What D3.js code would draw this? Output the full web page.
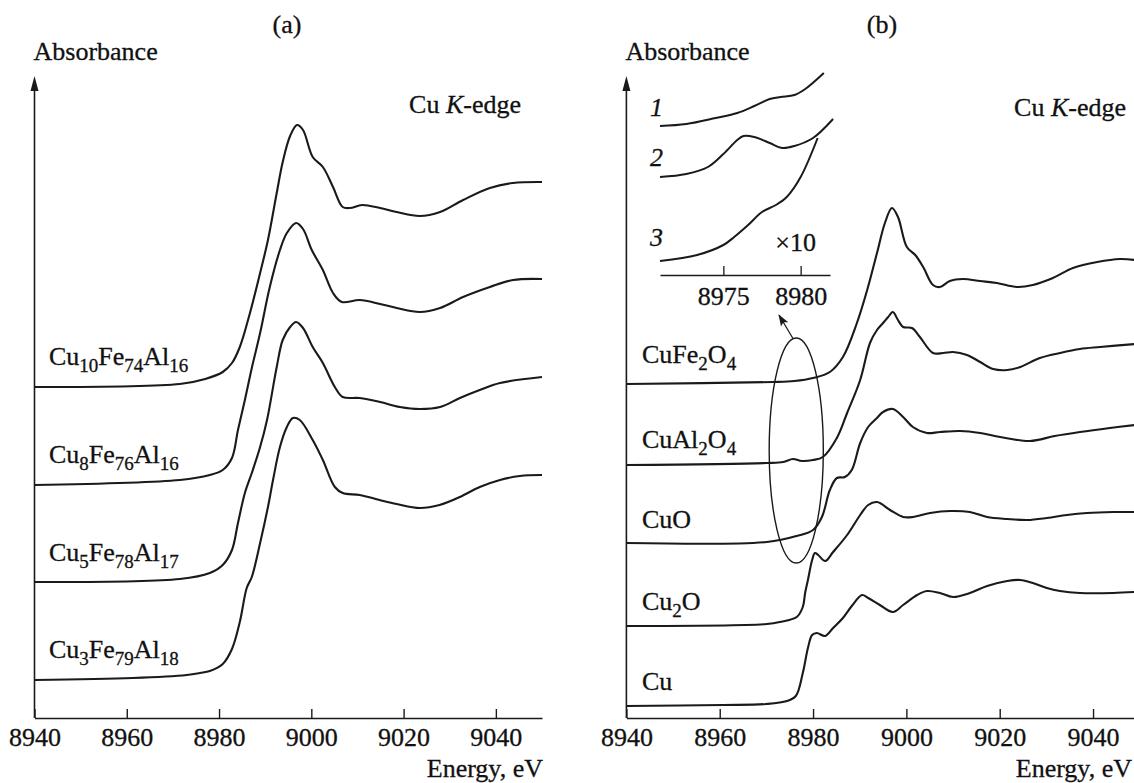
<!DOCTYPE html>
<html lang="en">
<head>
<meta charset="utf-8">
<title>Cu K-edge XANES</title>
<script src="https://cdnjs.cloudflare.com/ajax/libs/d3/7.8.5/d3.min.js"></script>
<style>
  body { margin: 0; background: #fff; }
  svg text { font-family: "Liberation Serif", "Times New Roman", serif; fill: #111; stroke: #111; stroke-width: 0.3px; }
</style>
</head>
<body>
<script>
// ---- data, panel (a): alloys (absorbance relative to each curve's own baseline)
var cu10E = [8940, 8971.5, 8977, 8980.8, 8982.8, 8984.5, 8986.7, 8988.9, 8990.6, 8992.5, 8993.8, 8995.4, 8996.9, 8998.2, 9000.3, 9002.5, 9004.7, 9006.8, 9008.4, 9011.0, 9014.9, 9018.5, 9023.5, 9027.9, 9032.9, 9038.7, 9043.7, 9050];
var cu10A = [0, 0.03, 0.08, 0.15, 0.24, 0.40, 0.74, 1.14, 1.47, 1.94, 2.25, 2.51, 2.62, 2.57, 2.30, 2.20, 2.00, 1.80, 1.79, 1.82, 1.79, 1.75, 1.71, 1.75, 1.87, 1.99, 2.04, 2.05];
var cu8E = [8940, 8971.5, 8978.0, 8980.8, 8982.8, 8984.1, 8985.6, 8987.1, 8988.9, 8991.0, 8993.2, 8994.7, 8996.7, 8998.2, 9000.1, 9002.5, 9004.7, 9006.6, 9010.5, 9014.9, 9018.5, 9023.5, 9027.9, 9032.9, 9038.7, 9043.7, 9050];
var cu8A = [0, 0.05, 0.10, 0.15, 0.27, 0.55, 0.85, 1.17, 1.52, 1.98, 2.35, 2.52, 2.62, 2.56, 2.35, 2.15, 1.92, 1.83, 1.85, 1.81, 1.77, 1.73, 1.77, 1.88, 1.98, 2.05, 2.06];
var cu5E = [8940, 8971.5, 8978.0, 8980.8, 8982.8, 8984.1, 8985.6, 8987.1, 8988.9, 8990.4, 8992.5, 8993.8, 8995.4, 8996.7, 8998.2, 9000.3, 9002.5, 9005.1, 9006.8, 9010.5, 9014.9, 9019.2, 9023.5, 9027.9, 9032.2, 9036.5, 9040.9, 9050];
var cu5A = [0, 0.03, 0.09, 0.17, 0.32, 0.59, 0.89, 1.09, 1.35, 1.62, 2.15, 2.42, 2.55, 2.60, 2.54, 2.35, 2.19, 1.95, 1.85, 1.84, 1.80, 1.75, 1.73, 1.75, 1.84, 1.92, 1.99, 2.05];
var cu3E = [8940, 8961.3, 8973.0, 8975.9, 8978.0, 8980.8, 8982.8, 8984.5, 8986.0, 8987.1, 8988.9, 8990.6, 8991.7, 8993.2, 8994.7, 8996.0, 8997.5, 9000.3, 9002.5, 9005.1, 9006.8, 9010.5, 9014.8, 9018.5, 9023.5, 9027.8, 9032.2, 9036.5, 9040.9, 9045.2, 9050];
var cu3A = [0, 0.02, 0.05, 0.07, 0.09, 0.16, 0.31, 0.58, 0.92, 1.03, 1.37, 1.73, 2.00, 2.33, 2.53, 2.62, 2.60, 2.40, 2.20, 1.93, 1.87, 1.85, 1.80, 1.76, 1.72, 1.75, 1.83, 1.93, 2.00, 2.04, 2.05];
var offsetsA = [3.31, 2.33, 1.36, 0.38];
var namesA = [["Cu", "10", "Fe", "74", "Al", "16"], ["Cu", "8", "Fe", "76", "Al", "16"],
              ["Cu", "5", "Fe", "78", "Al", "17"], ["Cu", "3", "Fe", "79", "Al", "18"]];

// ---- data, panel (b): reference compounds
var cufe2o4E = [8940, 8971.4, 8976, 8980.0, 8983.6, 8986.4, 8989.4, 8991.6, 8993.7, 8995.4, 8996.9, 8998.2, 9000.1, 9001.9, 9003.6, 9005.7, 9007.2, 9009.3, 9012.1, 9015.8, 9019.4, 9023.7, 9027.1, 9031.4, 9035.7, 9040.9, 9045.8, 9049];
var cufe2o4A = [0, 0.02, 0.03, 0.06, 0.12, 0.27, 0.61, 0.94, 1.31, 1.61, 1.76, 1.67, 1.37, 1.29, 1.17, 0.99, 0.97, 1.03, 1.05, 1.03, 1.01, 0.97, 0.99, 1.06, 1.16, 1.22, 1.25, 1.24];
var cual2o4E = [8940, 8970.1, 8973.6, 8975.7, 8977.6, 8980.0, 8982.1, 8985.1, 8987.3, 8990.1, 8992.2, 8993.7, 8995.0, 8996.1, 8997.1, 8998.2, 8999.3, 9001.2, 9002.9, 9005.7, 9007.9, 9010.0, 9013.0, 9015.8, 9018.6, 9021.6, 9024.4, 9028.6, 9032.9, 9037.2, 9041.5, 9049];
var cual2o4A = [0, 0.02, 0.03, 0.06, 0.04, 0.05, 0.08, 0.27, 0.52, 0.85, 1.22, 1.35, 1.42, 1.48, 1.53, 1.45, 1.38, 1.37, 1.28, 1.12, 1.12, 1.13, 1.10, 1.03, 0.96, 0.95, 0.98, 1.07, 1.12, 1.16, 1.18, 1.21];
var cuoE = [8940, 8970.1, 8976.5, 8980.0, 8981.9, 8983.6, 8985.1, 8986.8, 8988.3, 8990.1, 8991.8, 8993.7, 8995.0, 8997.1, 8999.3, 9001.4, 9004.4, 9007.2, 9011.5, 9015.8, 9020.1, 9026.5, 9031.8, 9037.2, 9043.6, 9049];
var cuoA = [0, 0.01, 0.07, 0.13, 0.26, 0.53, 0.65, 0.66, 0.73, 1.00, 1.16, 1.25, 1.31, 1.34, 1.26, 1.16, 1.10, 1.11, 1.12, 1.10, 1.06, 1.02, 1.07, 1.11, 1.15, 1.18];
var cu2oE = [8940, 8970.1, 8972.9, 8976.5, 8977.8, 8978.3, 8978.9, 8979.8, 8980.4, 8981.1, 8982.6, 8984.3, 8987.3, 8990.1, 8991.8, 8993.7, 8996.5, 8999.3, 9001.4, 9005.1, 9009.4, 9013.6, 9017.3, 9021.6, 9025.9, 9030.1, 9034.4, 9038.7, 9044.3, 9049];
var cu2oA = [0, 0.02, 0.04, 0.09, 0.19, 0.33, 0.46, 0.66, 0.73, 0.71, 0.65, 0.74, 0.91, 1.11, 1.21, 1.24, 1.16, 1.09, 1.09, 1.13, 1.15, 1.14, 1.09, 1.07, 1.06, 1.08, 1.11, 1.13, 1.14, 1.14];
var cuE = [8940, 8960.7, 8969.9, 8974.4, 8976.3, 8977.8, 8978.9, 8979.8, 8980.8, 8982.6, 8984.3, 8986.4, 8988.3, 8990.5, 8991.8, 8994.3, 8997.1, 8999.3, 9002.3, 9004.4, 9007.2, 9010.0, 9013.6, 9017.3, 9021.6, 9024.4, 9027.1, 9030.1, 9032.9, 9037.2, 9044.3, 9049];
var cuA = [0, 0.01, 0.02, 0.05, 0.10, 0.33, 0.58, 0.71, 0.73, 0.70, 0.78, 0.88, 1.00, 1.11, 1.08, 1.01, 0.94, 1.01, 1.11, 1.15, 1.13, 1.09, 1.13, 1.20, 1.25, 1.26, 1.23, 1.18, 1.15, 1.13, 1.13, 1.14];
var offsetsB = [3.34, 2.53, 1.75, 0.92, 0.12];
var namesB = [["CuFe", "2", "O", "4"], ["CuAl", "2", "O", "4"], ["CuO"], ["Cu", "2", "O"], ["Cu"]];

// ---- inset (pre-edge, x10)
var in1E = [8970.9, 8972.6, 8974.5, 8975.9, 8977.0, 8978.0, 8978.7, 8979.6, 8980.3, 8981.5];
var in1A = [1.49, 1.51, 1.57, 1.62, 1.69, 1.76, 1.78, 1.80, 1.86, 2.02];
var in2E = [8970.9, 8972.6, 8974.0, 8975.0, 8975.9, 8976.3, 8977.0, 8978.0, 8978.8, 8979.6, 8980.8, 8982.1];
var in2A = [0.98, 1.01, 1.08, 1.21, 1.35, 1.39, 1.38, 1.32, 1.27, 1.29, 1.37, 1.56];
var in3E = [8970.9, 8973.3, 8975.0, 8975.7, 8976.6, 8977.5, 8978.4, 8979.1, 8980.0, 8981.1];
var in3A = [0.14, 0.20, 0.30, 0.38, 0.50, 0.63, 0.70, 0.78, 0.98, 1.37];
var insetNames = ["1", "2", "3"];

var mainTicks = [8940, 8960, 8980, 9000, 9020, 9040];
var insetTicks = [8975, 8980];

var w = 1134, h = 783;
var ink = "#1a1a1a";
var serif = "Liberation Serif, Times New Roman, serif";

var svg = d3.select("body").append("svg")
    .attr("width", w)
    .attr("height", h);

svg.append("defs").append("marker")
    .attr("id", "head")
    .attr("viewBox", "0 0 12 10")
    .attr("refX", 11).attr("refY", 5)
    .attr("markerWidth", 13).attr("markerHeight", 10)
    .attr("markerUnits", "userSpaceOnUse")
    .attr("orient", "auto")
  .append("path")
    .attr("d", "M0,0.8 L12,5 L0,9.2 L2.5,5 Z")
    .attr("fill", ink);

var y = d3.scaleLinear().domain([0, 6.4]).range([718, 78]);

function zip(E, A, off) {
  return E.map(function (e, i) { return [e, A[i] + off]; });
}

function drawPanel(x, series, offsets, names, labelX, labelGap, title, edge, energyX) {
  var g = svg.append("g");
  var line = d3.line()
      .x(function (d) { return x(d[0]); })
      .y(function (d) { return y(d[1]); })
      .curve(d3.curveCatmullRom.alpha(0.5));

  g.selectAll("path.spec")
    .data(series)
    .enter()
    .append("path")
    .attr("class", "spec")
    .attr("fill", "none")
    .attr("stroke", ink)
    .attr("stroke-width", 2.1)
    .attr("stroke-linejoin", "round")
    .attr("d", function (s, i) { return line(zip(s[0], s[1], offsets[i])); });

  // x axis, ticks pointing inward
  var ax = g.append("g")
      .attr("transform", "translate(0," + y(0) + ")")
      .call(d3.axisBottom(x).tickValues(mainTicks).tickSize(-9).tickSizeOuter(0)
            .tickPadding(10).tickFormat(d3.format("d")));
  ax.attr("font-family", serif);
  ax.select(".domain").attr("stroke", ink).attr("stroke-width", 1.6);
  ax.selectAll(".tick line").attr("stroke", ink).attr("stroke-width", 1.4);
  ax.selectAll(".tick text").attr("font-size", 26).style("font-family", serif);

  // y axis arrow
  var x0 = x(8940);
  g.append("line")
    .attr("x1", x0).attr("x2", x0)
    .attr("y1", y(0)).attr("y2", y(6.3))
    .attr("stroke", ink).attr("stroke-width", 1.6);
  g.append("path")
    .attr("d", "M" + (x0 - 4) + "," + (y(6.4) + 13) + " L" + x0 + "," + (y(6.4) - 2) +
               " L" + (x0 + 4) + "," + (y(6.4) + 13) + " Z")
    .attr("fill", ink);

  g.append("text").attr("x", x0 - 1).attr("y", 60)
    .attr("font-size", 26).text("Absorbance");
  g.append("text").attr("x", title[1]).attr("y", 33)
    .attr("text-anchor", "middle").attr("font-size", 26).text(title[0]);

  var ke = g.append("text").attr("x", edge[0]).attr("y", edge[1])
    .attr("text-anchor", "end").attr("font-size", 26);
  ke.append("tspan").text("Cu ");
  ke.append("tspan").attr("font-style", "italic").text("K");
  ke.append("tspan").text("-edge");

  g.append("text").attr("x", energyX).attr("y", 777)
    .attr("text-anchor", "end").attr("font-size", 26).text("Energy, eV");

  // compound labels with subscripts
  names.forEach(function (parts, i) {
    var t = g.append("text")
      .attr("x", labelX)
      .attr("y", y(offsets[i]) - labelGap[i])
      .attr("font-size", 26);
    var shifted = false;
    parts.forEach(function (p, j) {
      var ts = t.append("tspan").text(p);
      if (j % 2 === 1) { ts.attr("font-size", 19).attr("dy", 7); shifted = true; }
      else if (shifted) { ts.attr("dy", -7); shifted = false; }
    });
  });
  return g;
}

var xA = d3.scaleLinear().domain([8940, 9050]).range([34.5, 542]);
var xB = d3.scaleLinear().domain([8940, 9050]).range([626.4, 1139.7]);

drawPanel(xA,
  [[cu10E, cu10A], [cu8E, cu8A], [cu5E, cu5A], [cu3E, cu3A]],
  offsetsA, namesA, 49, [22, 22, 21, 22], ["(a)", 287], [521, 113], 543);

var gB = drawPanel(xB,
  [[cufe2o4E, cufe2o4A], [cual2o4E, cual2o4A], [cuoE, cuoA], [cu2oE, cu2oA], [cuE, cuA]],
  offsetsB, namesB, 642, [21, 17, 15, 16, 16], ["(b)", 882], [1126, 116], 1132);

// ---- inset
var xIn = d3.scaleLinear().domain([8970.9, 8981.9]).range([660, 830]);
var yIn = d3.scaleLinear().domain([0, 2.2]).range([275, 55]);
var inLine = d3.line()
    .x(function (d) { return xIn(d[0]); })
    .y(function (d) { return yIn(d[1]); })
    .curve(d3.curveCatmullRom.alpha(0.5));

var inset = svg.append("g");
inset.selectAll("path.pre")
  .data([[in1E, in1A], [in2E, in2A], [in3E, in3A]])
  .enter()
  .append("path")
  .attr("class", "pre")
  .attr("fill", "none")
  .attr("stroke", ink)
  .attr("stroke-width", 2)
  .attr("d", function (s) { return inLine(zip(s[0], s[1], 0)); });

var axIn = inset.append("g")
    .attr("transform", "translate(0," + yIn(0) + ")")
    .call(d3.axisBottom(xIn).tickValues(insetTicks).tickSize(-9).tickSizeOuter(0)
          .tickPadding(12).tickFormat(d3.format("d")));
axIn.attr("font-family", serif);
axIn.select(".domain").attr("stroke", ink).attr("stroke-width", 1.5);
axIn.selectAll(".tick line").attr("stroke", ink).attr("stroke-width", 1.3);
axIn.selectAll(".tick text").attr("font-size", 26).style("font-family", serif);

inset.selectAll("text.num")
  .data(insetNames)
  .enter()
  .append("text")
  .attr("class", "num")
  .attr("x", 650)
  .attr("y", function (d, i) { return [116, 166, 246][i]; })
  .attr("font-size", 26)
  .attr("font-style", "italic")
  .text(function (d) { return d; });

inset.append("text").attr("x", 816).attr("y", 251)
  .attr("text-anchor", "end").attr("font-size", 26).text("\u00d710");

// ellipse marking the pre-edge region, with arrow to the inset
var ellE = 8976.4, ellA = 2.675, ellHalfE = 5.8, ellHalfA = 1.125;
var ecx = xB(ellE), ecy = y(ellA);
var erx = xB(ellE + ellHalfE) - ecx, ery = y(ellA - ellHalfA) - ecy;
gB.append("ellipse")
  .attr("cx", ecx).attr("cy", ecy)
  .attr("rx", erx).attr("ry", ery)
  .attr("fill", "none")
  .attr("stroke", ink)
  .attr("stroke-width", 1.4);
gB.append("line")
  .attr("x1", ecx - 3).attr("y1", ecy - ery + 1)
  .attr("x2", xB(8972.7)).attr("y2", y(4.03))
  .attr("stroke", ink)
  .attr("stroke-width", 1.3)
  .attr("marker-end", "url(#head)");
</script>
</body>
</html>
